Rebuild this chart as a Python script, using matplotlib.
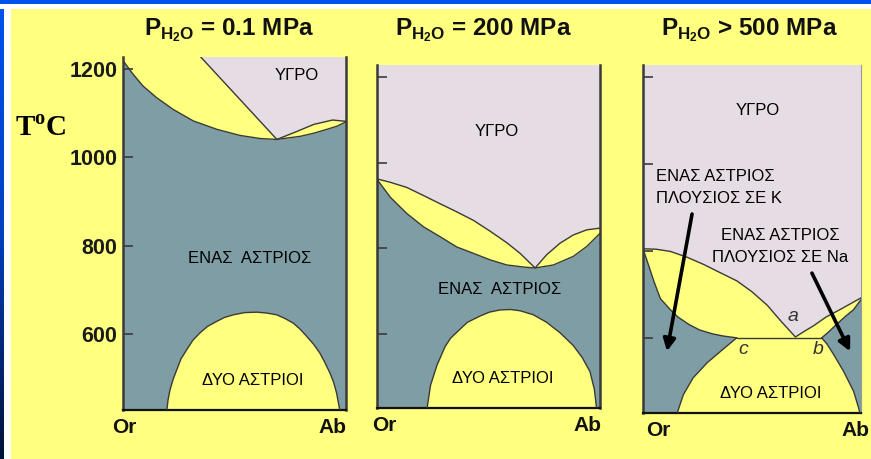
import numpy as np
import matplotlib.pyplot as plt
from matplotlib.patches import Rectangle
from matplotlib.colors import LinearSegmentedColormap

plt.rcParams['font.family'] = ['Liberation Sans', 'DejaVu Sans']

YELLOW = '#FFFF80'
SLATE = '#7F9DA4'
LILAC = '#E6DCE3'
EDGE = '#3a3a3a'

W, H = 871, 459
T_MIN, T_MAX = 427, 1228
t_ticks = [600, 800, 1000, 1200]
t_labels = ['600', '800', '1000', '1200']

titles = [r'P$_{\mathregular{H_2O}}$ = 0.1 MPa',
          r'P$_{\mathregular{H_2O}}$ = 200 MPa',
          r'P$_{\mathregular{H_2O}}$ > 500 MPa']

# --- 0.1 MPa: solidus, liquidus and solvus (x = % Ab, T in C)
p1_sol_x = [0, 4.5, 9, 15, 22.5, 31.5, 42, 52.5, 61.5, 69, 79.5, 85.5, 91.5, 96, 100]
p1_sol_t = [1220, 1189, 1162, 1136, 1109, 1083, 1064, 1050, 1043, 1041, 1048, 1055, 1064, 1071, 1081]
p1_liq_x = [34.5, 69, 76.5, 85.5, 94, 100]
p1_liq_t = [1230, 1041, 1056, 1075, 1085, 1082]
p1_solv_x = [19.6, 20.2, 21.1, 22.5, 24.1, 26, 28.6, 31.3, 34.5, 38, 42, 45.5, 49.5, 54.5,
             60, 64.5, 68.9, 72.5, 76.4, 79.5, 82.4, 85.5, 88.3, 90.5, 92.8, 94.5, 95.8, 97.3]
p1_solv_t = [424, 450, 473, 497, 518, 543, 564, 585, 602, 617, 628, 637, 643, 648,
             649, 647, 643, 635, 624, 610, 594, 576, 556, 535, 511, 489, 465, 424]

# --- 200 MPa
p2_sol_x = [0, 6, 13.4, 20.9, 28.3, 35.8, 43.3, 50.7, 58.2, 66, 70.9, 79.1, 88, 94, 100]
p2_sol_t = [961, 919, 881, 850, 827, 803, 788, 773, 761, 756, 754, 761, 781, 804, 835]
p2_liq_x = [0, 6, 13.4, 20.9, 28.3, 35.8, 43.3, 50.7, 58.2, 64.2, 70.9, 76.1, 82.1, 88, 94, 100]
p2_liq_t = [962, 954, 942, 923, 904, 885, 865, 840, 813, 788, 754, 785, 812, 831, 843, 847]
p2_solv_x = [22.4, 24, 26.9, 30.5, 33, 35.8, 40.5, 46.3, 50.5, 55.2, 60, 64.2, 70, 76.1,
             82, 88, 92, 95.5, 97.5, 98.5]
p2_solv_t = [424, 480, 527, 570, 590, 604, 627, 642, 651, 656, 657, 654, 645, 627,
             603, 573, 545, 512, 470, 424]

# --- >500 MPa
p3_liq_x = [0, 6, 12.5, 20, 27.8, 35, 43.1, 50, 57, 63, 69.9, 74, 78.3, 84, 90, 95, 100]
p3_liq_t = [805, 804, 799, 786, 769, 751, 731, 706, 675, 640, 602, 615, 628, 648, 664, 678, 692]
p3_solK_x = [0, 2.5, 5, 8, 12.5, 16, 21, 26, 32, 37, 43]
p3_solK_t = [805, 768, 730, 690, 665, 648, 631, 618, 609, 604, 600]
p3_solNa_x = [82, 85, 89, 93, 96.6, 100]
p3_solNa_t = [600, 613, 632, 650, 665, 688]
p3_solvK_x = [15.5, 18.5, 23, 29.5, 37, 43]
p3_solvK_t = [424, 469, 508, 543, 575, 600]
p3_solvNa_x = [82, 84.5, 87.4, 92, 96.6, 98.9, 99.6]
p3_solvNa_t = [600, 585, 562, 523, 477, 439, 424]
p3_eut_x = [43, 82]
p3_eut_t = [600, 600]

fig = plt.figure(figsize=(W / 100, H / 100), dpi=100, facecolor=YELLOW)

# frame: blue bars with a white strip
bg = fig.add_axes([0, 0, 1, 1], zorder=-10)
grad = LinearSegmentedColormap.from_list('bar', ['#0052F0', '#0040C0', '#001238'])
bg.imshow(np.linspace(0, 1, 200).reshape(-1, 1), cmap=grad, aspect='auto',
          extent=(0, 4, H, 0))
bg.add_patch(Rectangle((0, 4), W, 5, color='white', lw=0))
bg.add_patch(Rectangle((4, 4), 7, H, color='white', lw=0))
bg.add_patch(Rectangle((0, 0), W, 4, color='#0052F0', lw=0))
bg.set_xlim(0, W)
bg.set_ylim(H, 0)
bg.axis('off')


def px_axes(left, right, top, bottom):
    return fig.add_axes([left / W, 1 - bottom / H, (right - left) / W, (bottom - top) / H])


def setup(ax, labels=False, right_color=EDGE):
    ax.set_facecolor('none')
    ax.set_xlim(0, 100)
    ax.set_ylim(T_MIN, T_MAX)
    ax.spines['top'].set_visible(False)
    ax.spines['left'].set_color(EDGE)
    ax.spines['left'].set_linewidth(1.8)
    ax.spines['bottom'].set_color('#111111')
    ax.spines['bottom'].set_linewidth(1.6)
    ax.spines['right'].set_color(right_color)
    ax.spines['right'].set_linewidth(1.8 if right_color == EDGE else 0.8)
    ax.set_xticks([])
    ax.set_yticks(t_ticks)
    ax.tick_params(axis='y', direction='in', length=7, width=1.2, color=EDGE,
                   labelleft=labels, labelsize=15.5, pad=4)
    if labels:
        ax.set_yticklabels(t_labels, fontweight='bold', color='#1a1a1a')


def end_labels(ax, or_dx, ab_dx):
    kw = dict(xycoords='axes fraction', textcoords='offset points', ha='center',
              va='center', fontsize=15, fontweight='bold', color='#111111')
    ax.annotate('Or', xy=(0, 0), xytext=(or_dx, -12.5), **kw)
    ax.annotate('Ab', xy=(1, 0), xytext=(ab_dx, -12.5), **kw)


def boundary(ax, x, t, lw=1.0):
    ax.plot(x, t, color=EDGE, lw=lw, solid_capstyle='round', zorder=3)


lab = dict(ha='center', va='center', fontsize=12, color='black', zorder=5)

# panel 1
ax1 = px_axes(123, 346, 57, 410)
setup(ax1, labels=True)
ax1.fill_between(p1_sol_x, T_MIN - 10, p1_sol_t, color=SLATE, lw=0)
ax1.fill(p1_solv_x, p1_solv_t, color=YELLOW, lw=0)
ax1.fill(p1_liq_x + [100, 34.5], p1_liq_t + [T_MAX + 5, T_MAX + 5], color=LILAC, lw=0)
boundary(ax1, p1_sol_x, p1_sol_t)
boundary(ax1, p1_liq_x, p1_liq_t)
boundary(ax1, p1_solv_x, p1_solv_t)
ax1.text(78, 1186, 'ΥΓΡΟ', **lab)
ax1.text(57, 770, 'ΕΝΑΣ  ΑΣΤΡΙΟΣ', **lab)
ax1.text(58, 493, 'ΔΥΟ ΑΣΤΡΙΟΙ', **lab)
end_labels(ax1, 1, -10)

# panel 2
ax2 = px_axes(377, 600, 65, 408)
setup(ax2)
ax2.fill_between(p2_sol_x, T_MIN - 10, p2_sol_t, color=SLATE, lw=0)
ax2.fill(p2_solv_x, p2_solv_t, color=YELLOW, lw=0)
ax2.fill(p2_liq_x + [100, 0], p2_liq_t + [T_MAX + 5, T_MAX + 5], color=LILAC, lw=0)
boundary(ax2, p2_sol_x, p2_sol_t)
boundary(ax2, p2_liq_x, p2_liq_t)
boundary(ax2, p2_solv_x, p2_solv_t)
ax2.text(53.7, 1073, 'ΥΓΡΟ', **lab)
ax2.text(55, 704, 'ΕΝΑΣ  ΑΣΤΡΙΟΣ', **lab)
ax2.text(56.4, 496, 'ΔΥΟ ΑΣΤΡΙΟΙ', **lab)
end_labels(ax2, 5, -9)

# panel 3
ax3 = px_axes(643, 861, 65, 413)
setup(ax3, right_color='#9a9a9a')
ax3.fill(p3_liq_x + [100, 0], p3_liq_t + [T_MAX + 5, T_MAX + 5], color=LILAC, lw=0)
ax3.fill([0] + p3_solK_x + p3_solvK_x[::-1], [T_MIN - 10] + p3_solK_t + p3_solvK_t[::-1],
         color=SLATE, lw=0)
ax3.fill(p3_solNa_x + [100] + p3_solvNa_x[::-1], p3_solNa_t + [T_MIN - 10] + p3_solvNa_t[::-1],
         color=SLATE, lw=0)
for xs, ts in [(p3_liq_x, p3_liq_t), (p3_solK_x, p3_solK_t), (p3_solNa_x, p3_solNa_t),
               (p3_solvK_x, p3_solvK_t), (p3_solvNa_x, p3_solvNa_t), (p3_eut_x, p3_eut_t)]:
    boundary(ax3, xs, ts)
ax3.text(52.5, 1123, 'ΥΓΡΟ', **lab)
ax3.text(6, 946, 'ΕΝΑΣ ΑΣΤΡΙΟΣ\nΠΛΟΥΣΙΟΣ ΣΕ Κ', ha='left', va='center', fontsize=12,
         linespacing=1.55, zorder=5)
ax3.text(63, 810, 'ΕΝΑΣ ΑΣΤΡΙΟΣ\nΠΛΟΥΣΙΟΣ ΣΕ Na', ha='center', va='center', fontsize=12,
         linespacing=1.55, zorder=5)
ax3.text(58.4, 473, 'ΔΥΟ ΑΣΤΡΙΟΙ', **lab)
for s, x, t in [('a', 69, 650), ('c', 46, 573), ('b', 80.5, 573)]:
    ax3.text(x, t, s, ha='center', va='center', fontsize=14, style='italic',
             color='#333333', zorder=5)
arrow = dict(arrowstyle='-|>', lw=2.6, color='black', mutation_scale=18,
             shrinkA=0, shrinkB=0)
ax3.annotate('', xy=(11, 569), xytext=(22.5, 885), arrowprops=arrow, zorder=6)
ax3.annotate('', xy=(95, 569), xytext=(77.5, 749), arrowprops=arrow, zorder=6)
end_labels(ax3, 11, -4)

for cx, s in zip([228.5, 483.5, 749.5], titles):
    fig.text(cx / W, 1 - 35 / H, s, ha='center', va='baseline', fontsize=17.5,
             fontweight='bold', color='#111111')

fig.text(15 / W, 1 - 128 / H, r'T$^{\mathregular{o}}$C', ha='left', va='center',
         fontsize=21, fontweight='bold', family='Liberation Serif', color='black')

fig.savefig('out.png', dpi=100, facecolor=YELLOW)
